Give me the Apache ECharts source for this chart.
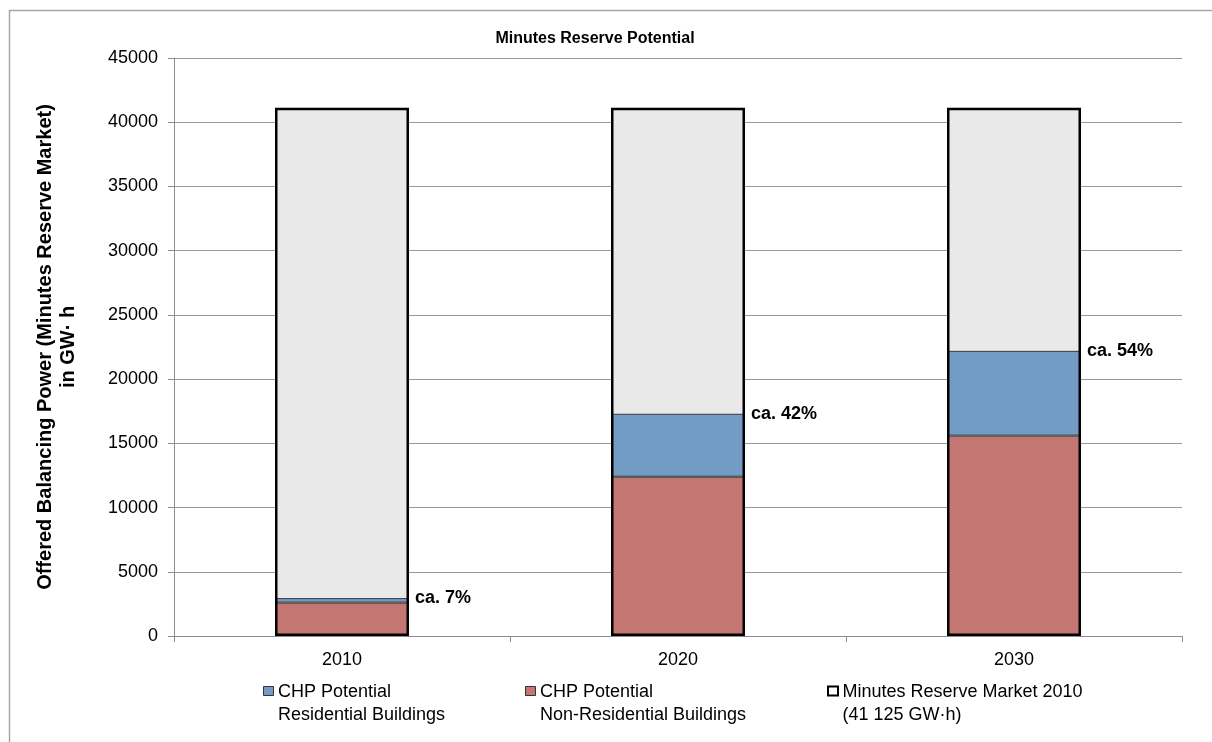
<!DOCTYPE html>
<html>
<head>
<meta charset="utf-8">
<script src="https://cdn.jsdelivr.net/npm/echarts@6/dist/echarts.min.js"></script>
<style>
  html, body { margin: 0; padding: 0; background: #ffffff; }
  #chart { width: 1212px; height: 742px; }
</style>
</head>
<body>
<div id="chart"></div>
<script>
// Categories (years)
const years = ['2010', '2020', '2030'];
// CHP potential, non-residential buildings (GW·h)
const nonResidential = [2600, 12400, 15600];
// CHP potential, residential buildings (GW·h), stacked on top
const residential = [350, 4900, 6600];
// Minutes reserve market volume 2010 (GW·h)
const marketTotal = [41125, 41125, 41125];
// Y axis ticks
const yMin = 0, yMax = 45000, yStep = 5000;

const seriesNames = [
  'CHP Potential\nResidential Buildings',
  'CHP Potential\nNon-Residential Buildings',
  'Minutes Reserve Market 2010\n(41 125 GW·h)'
];

const FONT = '"Liberation Sans", Arial, sans-serif';
const RED = '#C47672';
const BLUE = '#729CC4';
const GREY = '#E9E9E9';

const chart = echarts.init(document.getElementById('chart'), null, { renderer: 'canvas' });

// legend drawn as graphic groups: swatch + two-line caption
const legendX = [263, 525, 827];
const legendFill = [BLUE, RED, '#ffffff'];
const legendStroke = ['#333333', '#333333', '#000000'];
const legendLineW = [1, 1, 2];
const legendGraphics = seriesNames.map((name, i) => ({
  type: 'group',
  left: legendX[i],
  top: 681,
  children: [
    { type: 'rect', shape: { x: 0.5, y: 0.5, width: 10, height: 9 },
      style: { fill: legendFill[i], stroke: legendStroke[i], lineWidth: legendLineW[i] } },
    { type: 'text', x: 15, y: -5,
      style: { text: name, font: '18px ' + FONT, fill: '#000', lineHeight: 23 } }
  ]
}));

const option = {
  animation: false,
  backgroundColor: '#ffffff',
  title: {
    text: 'Minutes Reserve Potential',
    left: 590,
    top: 26,
    textAlign: 'center',
    textStyle: { fontFamily: FONT, fontSize: 16, fontWeight: 'bold', color: '#000' }
  },
  grid: { left: 174, right: 30, top: 58, bottom: 106, containLabel: false },
  xAxis: {
    type: 'category',
    data: years,
    axisLine: { lineStyle: { color: '#8c8c8c', width: 1 } },
    axisTick: { show: true, length: 6, alignWithLabel: false, lineStyle: { color: '#8c8c8c' } },
    axisLabel: { fontFamily: FONT, fontSize: 18, color: '#000', margin: 15 },
    splitLine: { show: false }
  },
  yAxis: {
    type: 'value',
    min: yMin,
    max: yMax,
    interval: yStep,
    name: 'Offered Balancing Power (Minutes Reserve Market)\nin GW· h',
    nameLocation: 'middle',
    nameRotate: 90,
    nameGap: 94,
    nameTextStyle: { fontFamily: FONT, fontSize: 20, fontWeight: 'bold', color: '#000', lineHeight: 23, align: 'center' },
    axisLine: { show: true, lineStyle: { color: '#8c8c8c', width: 1 } },
    axisTick: { show: true, length: 6, lineStyle: { color: '#8c8c8c' } },
    axisLabel: { fontFamily: FONT, fontSize: 18, color: '#000', margin: 16, formatter: (v) => String(v) },
    splitLine: { show: true, lineStyle: { color: '#9a9a9a', width: 1 } }
  },
  series: [
    {
      // market volume: grey fill behind the potentials
      name: seriesNames[2],
      type: 'bar',
      data: marketTotal,
      barWidth: 134,
      barGap: '-100%',
      z: 1,
      itemStyle: { color: GREY, borderWidth: 0 },
      silent: true
    },
    {
      name: seriesNames[1],
      type: 'bar',
      stack: 'potential',
      data: nonResidential,
      barWidth: 134,
      barGap: '-100%',
      z: 2,
      itemStyle: { color: RED, borderColor: '#3a3a3a', borderWidth: 1 }
    },
    {
      name: seriesNames[0],
      type: 'bar',
      stack: 'potential',
      data: residential,
      barWidth: 134,
      barGap: '-100%',
      z: 3,
      itemStyle: { color: BLUE, borderColor: '#3a3a3a', borderWidth: 1 },
      label: {
        show: true,
        position: ['100%', 0],
        distance: 0,
        offset: [6, 0],
        align: 'left',
        verticalAlign: 'middle',
        fontFamily: FONT,
        fontSize: 18,
        fontWeight: 'bold',
        color: '#000',
        formatter: (p) => {
          const i = p.dataIndex;
          const share = (nonResidential[i] + residential[i]) / marketTotal[i] * 100;
          return 'ca. ' + Math.round(share) + '%';
        }
      }
    },
    {
      // market volume outline drawn on top of the stacked potentials
      name: seriesNames[2] + ' outline',
      type: 'bar',
      data: marketTotal,
      barWidth: 134,
      barGap: '-100%',
      z: 4,
      silent: true,
      itemStyle: { color: 'rgba(0,0,0,0)', borderColor: '#000000', borderWidth: 2.5 }
    }
  ],
  graphic: [
    {
      type: 'rect',
      left: 7,
      top: 8,
      shape: { width: 1220, height: 760 },
      style: { fill: 'none', stroke: '#a6a6a6', lineWidth: 1.5 },
      silent: true,
      z: -10
    }
  ].concat(legendGraphics)
};

chart.setOption(option);
</script>
</body>
</html>
